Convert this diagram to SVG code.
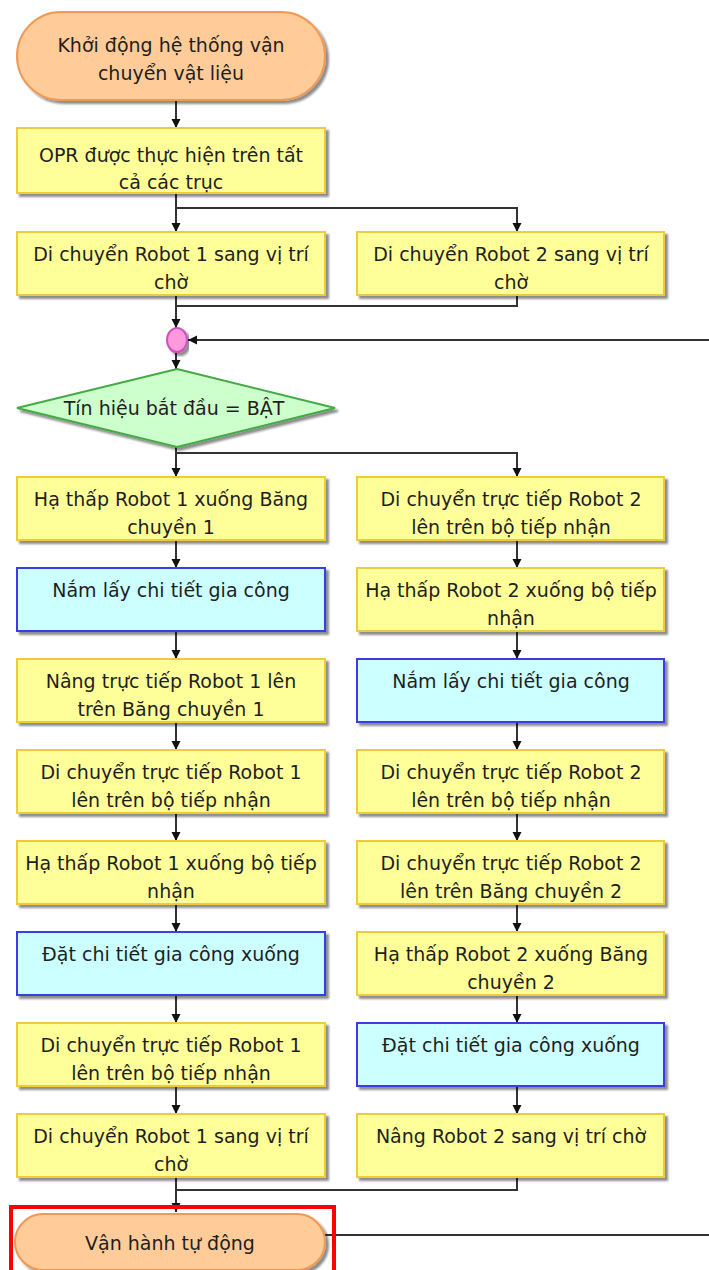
<svg xmlns="http://www.w3.org/2000/svg" width="709" height="1270" viewBox="0 0 709 1270">
<defs>
<marker id="ah" markerWidth="10" markerHeight="10" refX="9" refY="5" orient="auto" markerUnits="userSpaceOnUse">
<path d="M0,0.5 L9,5 L0,9.5 z" fill="#111"/>
</marker>
<filter id="sh" x="-5%" y="-5%" width="115%" height="125%">
<feGaussianBlur in="SourceAlpha" stdDeviation="1"/>
<feOffset dx="3" dy="3" result="o"/>
<feComponentTransfer><feFuncA type="linear" slope="0.45"/></feComponentTransfer>
<feMerge><feMergeNode/><feMergeNode in="SourceGraphic"/></feMerge>
</filter>
</defs>
<style>
text{font-family:"DejaVu Sans",Verdana,sans-serif;font-size:19px;fill:#1e1e1e;text-anchor:middle}
.y{fill:#FFFF99;stroke:#EDCB3C;stroke-width:2;filter:url(#sh)}
.b{fill:#CCFFFF;stroke:#3B3BE8;stroke-width:2;filter:url(#sh)}
.t{fill:#FFCC99;stroke:#EE9955;stroke-width:2;filter:url(#sh)}
.d{fill:#CCFFCC;stroke:#44AA44;stroke-width:2;filter:url(#sh)}
.c{fill:#FF99DD;stroke:#CC55BB;stroke-width:2;filter:url(#sh)}
.l{fill:none;stroke:#333;stroke-width:2}
.la{fill:none;stroke:#333;stroke-width:2;marker-end:url(#ah)}
</style>
<rect width="709" height="1270" fill="#fff"/>

<g id="connectors">
<path class="la" d="M176,100 V128"/>
<path class="la" d="M176,193 V232"/>
<path class="la" d="M176,208 H517 V232"/>
<path class="la" d="M176,295 V328"/>
<path class="l" d="M517,295 V306 H176"/>
<path class="la" d="M709,340 H188"/>
<path class="la" d="M176,352 V369"/>
<path class="la" d="M176,447 V477"/>
<path class="la" d="M176,453 H517 V477"/>
<path class="la" d="M176,540 V568"/>
<path class="la" d="M176,631 V659"/>
<path class="la" d="M176,722 V750"/>
<path class="la" d="M176,813 V841"/>
<path class="la" d="M176,904 V932"/>
<path class="la" d="M176,995 V1023"/>
<path class="la" d="M176,1086 V1114"/>
<path class="la" d="M517,540 V568"/>
<path class="la" d="M517,631 V659"/>
<path class="la" d="M517,722 V750"/>
<path class="la" d="M517,813 V841"/>
<path class="la" d="M517,904 V932"/>
<path class="la" d="M517,995 V1023"/>
<path class="la" d="M517,1086 V1114"/>
<path class="la" d="M176,1177 V1212"/>
<path class="l" d="M517,1177 V1190 H176"/>
<path class="l" d="M325,1235 H709" stroke="#555"/>
</g>

<g id="start"><rect class="t" x="17" y="12" width="308" height="88" rx="44"/><text x="171" y="52">Khởi động hệ thống vận</text><text x="171" y="80">chuyển vật liệu</text></g>
<g id="opr"><rect class="y" x="17" y="128" width="308" height="65"/><text x="171" y="162">OPR được thực hiện trên tất</text><text x="171" y="189">cả các trục</text></g>
<g id="w1"><rect class="y" x="17" y="232" width="308" height="63"/><text x="171" y="261">Di chuyển Robot 1 sang vị trí</text><text x="171" y="289">chờ</text></g>
<g id="w2"><rect class="y" x="357" y="232" width="307" height="63"/><text x="511" y="261">Di chuyển Robot 2 sang vị trí</text><text x="511" y="289">chờ</text></g>
<g id="merge"><ellipse class="c" cx="177" cy="340" rx="10" ry="12"/></g>
<g id="decision"><polygon class="d" points="177,369 335,408 177,447 17,408"/><text x="174" y="415">Tín hiệu bắt đầu = BẬT</text></g>

<g id="L1"><rect class="y" x="17" y="477" width="308" height="63"/><text x="171" y="506">Hạ thấp Robot 1 xuống Băng</text><text x="171" y="534">chuyền 1</text></g>
<g id="L2"><rect class="b" x="17" y="568" width="308" height="63"/><text x="171" y="597">Nắm lấy chi tiết gia công</text></g>
<g id="L3"><rect class="y" x="17" y="659" width="308" height="63"/><text x="171" y="688">Nâng trực tiếp Robot 1 lên</text><text x="171" y="716">trên Băng chuyền 1</text></g>
<g id="L4"><rect class="y" x="17" y="750" width="308" height="63"/><text x="171" y="779">Di chuyển trực tiếp Robot 1</text><text x="171" y="807">lên trên bộ tiếp nhận</text></g>
<g id="L5"><rect class="y" x="17" y="841" width="308" height="63"/><text x="171" y="870">Hạ thấp Robot 1 xuống bộ tiếp</text><text x="171" y="898">nhận</text></g>
<g id="L6"><rect class="b" x="17" y="932" width="308" height="63"/><text x="171" y="961">Đặt chi tiết gia công xuống</text></g>
<g id="L7"><rect class="y" x="17" y="1023" width="308" height="63"/><text x="171" y="1052">Di chuyển trực tiếp Robot 1</text><text x="171" y="1080">lên trên bộ tiếp nhận</text></g>
<g id="L8"><rect class="y" x="17" y="1114" width="308" height="63"/><text x="171" y="1143">Di chuyển Robot 1 sang vị trí</text><text x="171" y="1171">chờ</text></g>

<g id="R1"><rect class="y" x="357" y="477" width="307" height="63"/><text x="511" y="506">Di chuyển trực tiếp Robot 2</text><text x="511" y="534">lên trên bộ tiếp nhận</text></g>
<g id="R2"><rect class="y" x="357" y="568" width="307" height="63"/><text x="511" y="597">Hạ thấp Robot 2 xuống bộ tiếp</text><text x="511" y="625">nhận</text></g>
<g id="R3"><rect class="b" x="357" y="659" width="307" height="63"/><text x="511" y="688">Nắm lấy chi tiết gia công</text></g>
<g id="R4"><rect class="y" x="357" y="750" width="307" height="63"/><text x="511" y="779">Di chuyển trực tiếp Robot 2</text><text x="511" y="807">lên trên bộ tiếp nhận</text></g>
<g id="R5"><rect class="y" x="357" y="841" width="307" height="63"/><text x="511" y="870">Di chuyển trực tiếp Robot 2</text><text x="511" y="898">lên trên Băng chuyền 2</text></g>
<g id="R6"><rect class="y" x="357" y="932" width="307" height="63"/><text x="511" y="961">Hạ thấp Robot 2 xuống Băng</text><text x="511" y="989">chuyền 2</text></g>
<g id="R7"><rect class="b" x="357" y="1023" width="307" height="63"/><text x="511" y="1052">Đặt chi tiết gia công xuống</text></g>
<g id="R8"><rect class="y" x="357" y="1114" width="307" height="63"/><text x="511" y="1143">Nâng Robot 2 sang vị trí chờ</text></g>

<g id="end"><rect class="t" x="15" y="1214" width="310" height="56" rx="28"/><text x="170" y="1250">Vận hành tự động</text></g>
<g id="highlight"><rect x="11" y="1207" width="323" height="70" fill="none" stroke="#FF0000" stroke-width="4"/></g>
</svg>
